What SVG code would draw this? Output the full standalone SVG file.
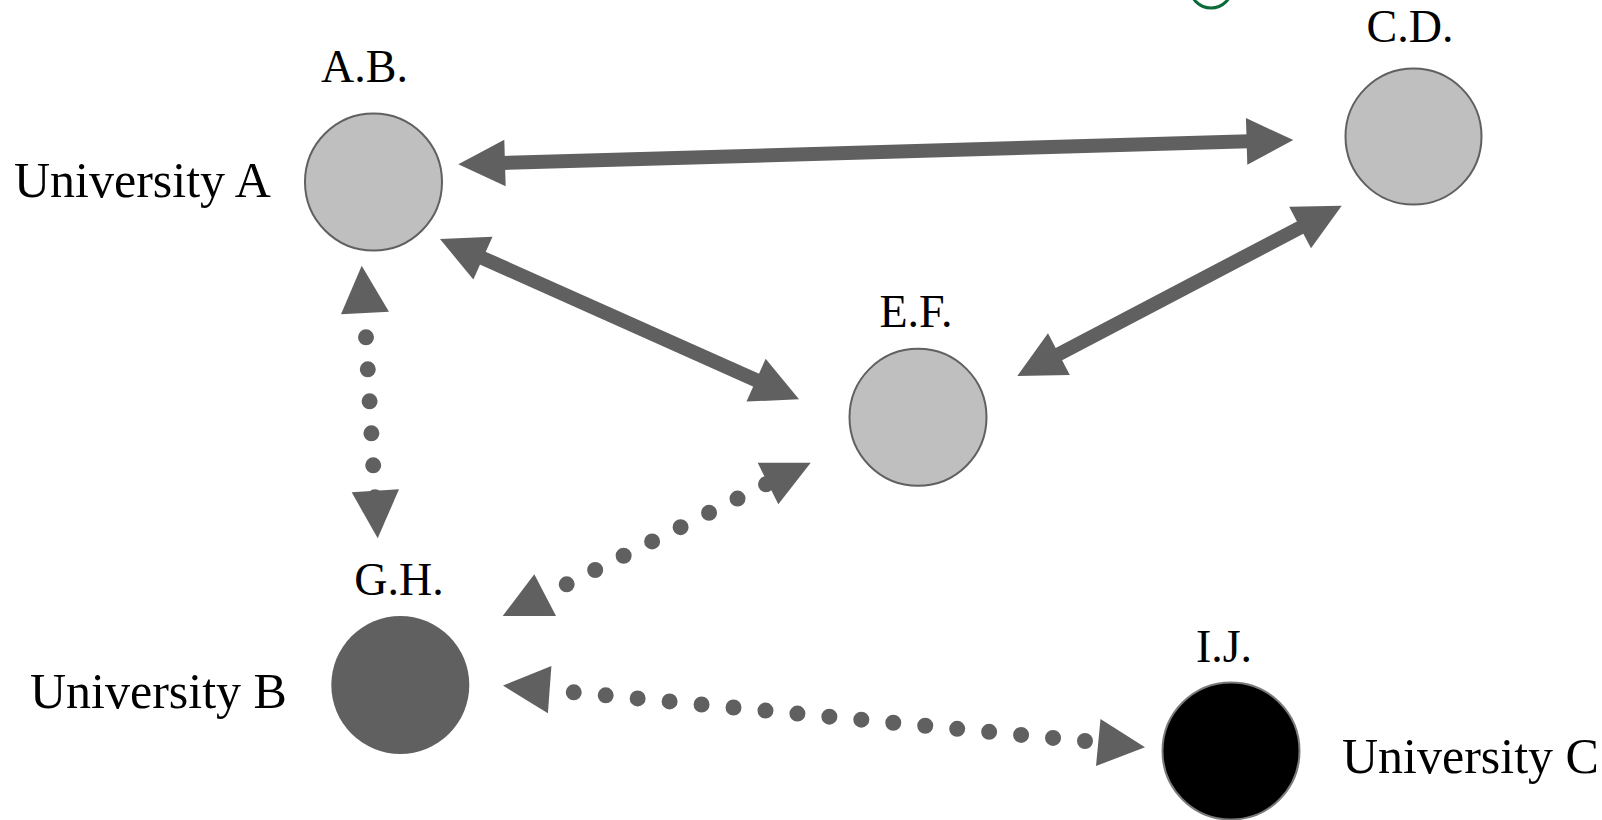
<svg xmlns="http://www.w3.org/2000/svg" width="1602" height="820" viewBox="0 0 1602 820">
<style>
  .lbl { font-family: "Liberation Serif", "Times New Roman", serif; fill: #000; }
  .node-lbl { font-size: 46px; text-anchor: middle; }
  .uni-lbl { font-size: 50px; }
  .light { fill: #bfbfbf; stroke: #606060; stroke-width: 2; }
  .solid { stroke: #606060; stroke-width: 14; fill: none; }
  .dots { stroke: #606060; stroke-width: 16; stroke-linecap: round; fill: none; }
  .head { fill: #606060; }
</style>
<rect x="0" y="0" width="1602" height="820" fill="#ffffff"/>

<!-- partial green shape at top edge -->
<circle cx="1211" cy="-13" r="21" fill="none" stroke="#0b6a3a" stroke-width="3"/>

<g id="connectors">
  <!-- A.B. <-> C.D. -->
  <line class="solid" x1="503" y1="163" x2="1249" y2="141.3"/>
  <polygon class="head" points="458.3,164.3 505.66,186.23 504.30,139.65"/>
  <polygon class="head" points="1293.3,140 1247.30,164.65 1245.94,118.07"/>

  <!-- A.B. <-> E.F. -->
  <line class="solid" x1="481" y1="257.3" x2="758" y2="381"/>
  <polygon class="head" points="440,239 473.34,279.62 492.50,236.70"/>
  <polygon class="head" points="799,399.3 746.50,401.60 765.66,358.68"/>

  <!-- E.F. <-> C.D. -->
  <line class="solid" x1="1057" y1="355.1" x2="1302" y2="226.6"/>
  <polygon class="head" points="1017.3,376 1069.83,374.96 1047.99,333.34"/>
  <polygon class="head" points="1341.7,205.7 1311.01,248.36 1289.17,206.74"/>

  <!-- A.B. <-> G.H. (dotted) -->
  <path class="dots" d="M366,337.3 L375,497.3" stroke-dasharray="0 32.05"/>
  <polygon class="head" points="361.7,265.7 341,314.3 389,311.7"/>
  <polygon class="head" points="377.7,538.3 351.7,492.3 399,489.3"/>

  <!-- G.H. <-> E.F. (dotted) -->
  <path class="dots" d="M566.7,584.3 L766,484.3" stroke-dasharray="0 31.854"/>
  <polygon class="head" points="534.3,574.3 502.7,616 556,616"/>
  <polygon class="head" points="778.3,504.3 757.7,462.7 810.7,462.7"/>

  <!-- G.H. <-> I.J. (dotted) -->
  <path class="dots" d="M573.75,692.3 L1085,741" stroke-dasharray="0 32.0975"/>
  <polygon class="head" points="503,685.6 551.4,666 547.9,713.3"/>
  <polygon class="head" points="1145,747.3 1100.5,719 1096,766"/>
</g>

<g id="node-ab">
  <circle class="light" cx="373.5" cy="182" r="68.5"/>
  <text class="lbl node-lbl" x="364.5" y="82">A.B.</text>
  <text class="lbl uni-lbl" x="14" y="197">University A</text>
</g>

<g id="node-cd">
  <circle class="light" cx="1413.5" cy="136.5" r="68"/>
  <text class="lbl node-lbl" x="1410" y="42">C.D.</text>
</g>

<g id="node-ef">
  <circle class="light" cx="918" cy="417.3" r="68.5"/>
  <text class="lbl node-lbl" x="916" y="327">E.F.</text>
</g>

<g id="node-gh">
  <circle cx="400.3" cy="685" r="69" fill="#606060"/>
  <text class="lbl node-lbl" x="399" y="595">G.H.</text>
  <text class="lbl uni-lbl" x="30" y="708">University B</text>
</g>

<g id="node-ij">
  <circle cx="1231" cy="751" r="68.5" fill="#000000" stroke="#7a7a7a" stroke-width="2"/>
  <text class="lbl node-lbl" x="1224" y="662">I.J.</text>
  <text class="lbl uni-lbl" x="1342" y="773">University C</text>
</g>
</svg>
